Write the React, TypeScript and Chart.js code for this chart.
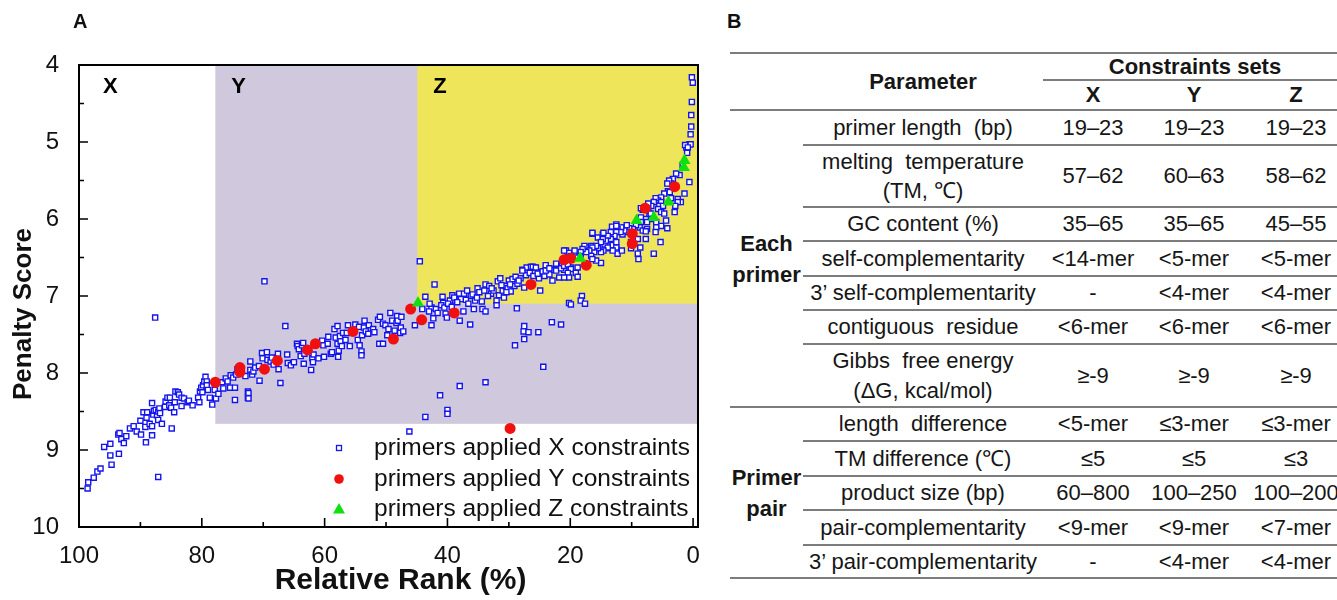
import React, { useEffect, useRef } from 'react';
import { Chart, registerables } from 'chart.js';

Chart.register(...registerables);

const FONT = '"Liberation Sans", Arial, Helvetica, sans-serif';

// ---------- Panel A data ----------
const rankTicks = [100, 80, 60, 40, 20, 0];
const rankMinorTicks = [90, 70, 50, 30, 10];
const scoreTicks = [4, 5, 6, 7, 8, 9, 10];
const scoreMinorTicks = [4.5, 5.5, 6.5, 7.5, 8.5, 9.5];

const regionLabels = ['X', 'Y', 'Z'];
const regionStartRank = [100, 77.8, 44.9];
const regionEndScore = [10, 8.66, 7.1];

const seriesLabels = [
  'primers applied X constraints',
  'primers applied Y constraints',
  'primers applied Z constraints',
];

const xSetRank = [
  98.6, 98.5, 97.6, 97.0, 96.5, 95.9, 94.9, 94.9, 94.7, 93.6, 93.5, 93.4, 93.1, 92.7, 92.3, 91.7, 91.1, 90.6, 90.0, 89.9,
  89.5, 89.2, 89.1, 89.0, 88.9, 88.5, 88.1, 88.1, 88.1, 87.9, 87.8, 87.6, 87.5, 87.3, 87.1, 87.1, 87.1, 86.9, 86.8, 86.5,
  86.0, 85.9, 85.6, 85.3, 85.2, 85.0, 84.9, 84.5, 84.4, 84.3, 83.9, 83.7, 83.3, 83.3, 82.9, 82.3, 82.1, 81.5, 80.6, 80.4,
  80.3, 80.1, 79.9, 79.8, 79.6, 79.4, 79.2, 79.2, 79.0, 78.7, 78.3, 77.9, 77.7, 77.3, 76.7, 76.5, 76.1, 75.8, 75.4, 75.3,
  74.9, 74.6, 74.6, 74.4, 74.2, 72.5, 72.5,
  72.9, 72.4, 72.4, 72.1, 72.1, 71.8, 71.6, 71.3, 70.7, 70.6, 70.2, 70.1, 69.8, 69.4, 69.3, 68.8, 68.6, 68.3, 67.6, 67.5,
  67.2, 66.4, 66.1, 66.0, 65.5, 65.0, 64.5, 64.4, 64.2, 63.9, 63.7, 63.5, 63.4, 63.3, 62.2, 62.0, 61.9, 61.8, 61.0, 60.4,
  60.2, 60.1, 59.5, 59.4, 59.0, 58.8, 58.4, 58.2, 57.9, 57.9, 57.8, 57.7, 57.5, 57.4, 57.2, 57.0, 56.6, 56.4, 56.2, 55.9,
  55.0, 54.6, 54.4, 54.3, 54.0, 54.0, 53.9, 53.6, 53.5, 53.3, 52.9, 52.8, 52.1, 51.9, 51.3, 51.1, 51.0, 50.5, 50.5, 50.1,
  49.8, 49.6, 49.3, 49.0, 48.6, 48.3, 48.2, 48.1, 47.7, 47.6, 47.5, 47.2, 46.2, 45.3,
  44.5, 44.1, 43.6, 43.6, 42.6, 42.6, 42.3, 42.1, 41.9, 41.6, 41.2, 40.8, 40.7, 40.3, 40.1, 40.0, 40.0, 39.6, 39.2, 38.7,
  38.1, 38.0, 38.0, 37.8, 37.4, 37.3, 36.8, 36.3, 36.2, 35.7, 35.5, 35.1, 34.4, 34.3, 33.8, 33.8, 33.8, 33.2, 32.9, 32.5,
  32.0, 32.0, 31.8, 31.6, 31.4, 31.0, 30.8, 30.6, 30.2, 30.0, 29.7, 29.4, 29.1, 29.0, 28.7, 28.6, 28.1, 27.8, 27.5, 27.5,
  27.6, 27.5, 27.2, 27.1, 26.8, 26.4, 25.8, 25.2, 25.1, 24.9, 24.6, 24.4, 24.2, 23.7, 23.0, 22.9, 22.1, 21.8, 21.5, 21.3,
  20.9, 20.2,
  43.0, 42.9, 41.0, 40.5, 39.9, 39.3, 38.9, 38.4, 37.0, 36.6, 35.9, 35.2, 34.8, 34.0, 33.4, 32.8, 31.2, 30.4, 29.8, 28.9,
  28.4, 26.6, 26.0, 24.0, 23.4, 22.6, 22.3, 21.0,
  27.8, 26.1, 25.6, 25.3, 24.5, 24.0, 23.4, 22.3, 21.5, 21.0, 20.7, 20.2, 18.8, 19.9, 20.4, 17.7, 17.2, 16.6, 18.3, 16.4,
  15.5, 14.7, 14.4, 13.9, 13.6, 13.1, 12.5, 12.3, 15.0, 13.2, 12.5, 11.9, 11.5, 11.2, 9.0, 8.9, 8.6, 6.4, 5.3, 4.2,
  2.0, 1.4, 0.6, 1.1, 0.6, 0.4, 0.2, 0.05, 0.2, 0.3, 0.3, 0.4,
  1.3, 0.86, 0.97, 1.7, 2.2, 2.76, 3.3, 3.6, 3.9, 4.2, 4.1, 4.7, 3.8, 3.6, 2.5, 5.2, 5.7, 5.2, 5.5, 4.9,
  6.1, 6.4, 6.8, 5.7, 5.2, 4.7, 3.0, 7.3, 7.9, 8.2, 7.1, 6.8, 7.7, 8.5, 6.0, 5.2, 4.4, 8.5, 8.7, 8.2,
  7.5, 6.0, 6.1, 9.3, 9.8, 10.4, 10.8, 10.6, 11.2, 11.7, 12.3, 12.5, 11.8, 12.5, 12.8, 13.4, 13.4, 13.9, 14.2, 14.7,
  15.0, 14.6, 16.4, 12.5, 12.5, 13.1, 11.6, 13.9, 14.6, 15.0, 15.5, 15.8, 16.1, 16.4, 16.9, 16.6, 17.4, 17.7, 18.0, 18.3,
  18.5, 19.1, 15.8, 16.4, 19.3, 19.9, 20.4, 21.0, 19.9, 19.1, 18.8, 20.4, 20.2, 21.0, 10.1, 9.0, 10.1, 7.7, 7.7, 18.1,
  18.3, 17.6, 19.9, 7.5, 7.3, 6.9, 8.5, 2.5, 2.9,
];
const xSetScore = [
  9.50, 9.42, 9.36, 9.28, 9.24, 8.96, 8.92, 9.07, 9.19, 8.80, 9.05, 8.78, 8.86, 8.91, 8.82, 8.72, 8.69, 8.76, 8.62, 8.80,
  8.51, 8.70, 8.90, 8.58, 8.51, 8.66, 8.69, 8.81, 8.39, 8.54, 8.49, 7.28, 8.48, 8.55, 8.61, 8.50, 9.35, 8.46, 8.52, 8.66,
  8.44, 8.37, 8.32, 8.42, 8.32, 8.45, 8.72, 8.51, 8.38, 8.24, 8.25, 8.28, 8.43, 8.32, 8.33, 8.38, 8.36, 8.42, 8.32, 8.38,
  8.24, 8.19, 8.25, 8.16, 8.11, 8.05, 8.11, 8.16, 8.22, 8.32, 8.41, 8.22, 8.33, 8.27, 8.12, 8.20, 8.07, 8.11, 8.19, 8.03,
  8.06, 8.35, 8.19, 8.02, 7.95, 8.24, 8.32,
  8.04, 8.26, 8.33, 7.85, 7.96, 8.02, 7.98, 7.93, 7.91, 8.10, 7.74, 7.81, 6.81, 7.73, 7.83, 7.85, 7.80, 7.89, 7.75, 7.95,
  8.13, 7.39, 7.76, 7.87, 7.90, 7.86, 7.62, 7.65, 7.69, 7.78, 7.64, 7.61, 7.88, 7.75, 7.96, 7.81, 7.86, 7.76, 7.81, 7.58,
  7.64, 7.79, 7.62, 7.53, 7.75, 7.73, 7.43, 7.54, 7.39, 7.62, 7.79, 7.71, 7.52, 7.59, 7.65, 7.48, 7.57, 7.48, 7.38, 7.65,
  7.37, 7.57, 7.40, 7.64, 7.72, 7.77, 7.51, 7.41, 7.32, 7.46, 7.49, 7.38, 7.43, 7.47, 7.31, 7.62, 7.27, 7.62, 7.36, 7.38,
  7.51, 7.43, 7.22, 7.32, 7.45, 7.35, 7.26, 7.32, 7.48, 7.41, 7.27, 7.46, 8.76, 7.38,
  6.55, 7.17, 7.01, 8.57, 7.15, 7.38, 7.29, 6.85, 7.17, 7.22, 8.29, 7.01, 7.09, 7.23, 7.28, 8.48, 8.53, 7.06, 6.99, 7.06,
  6.97, 7.32, 8.17, 7.04, 7.20, 6.97, 6.93, 7.37, 7.00, 7.17, 7.06, 6.90, 7.07, 7.17, 7.20, 6.85, 8.12, 6.87, 6.97, 6.93,
  7.06, 7.12, 6.81, 6.99, 6.77, 6.93, 7.02, 6.87, 6.90, 6.80, 6.94, 6.78, 6.87, 7.64, 7.16, 6.84, 6.77, 6.66, 6.89, 7.39,
  7.46, 7.56, 6.73, 6.63, 7.47, 6.62, 6.63, 7.47, 6.77, 6.93, 6.69, 7.92, 6.74, 6.64, 7.34, 6.80, 6.63, 6.76, 7.37, 6.59,
  6.53, 7.09,
  7.20, 7.10, 7.12, 7.15, 7.10, 7.14, 7.02, 7.08, 7.05, 7.10, 6.98, 7.02, 6.95, 6.93, 7.00, 6.90, 6.86, 6.95, 6.85, 6.75,
  6.80, 6.70, 6.74, 6.60, 6.72, 6.66, 6.58, 6.66,
  6.67, 6.62, 6.63, 6.71, 6.68, 6.67, 6.64, 6.67, 6.64, 6.61, 6.41, 6.44, 6.63, 6.63, 6.59, 6.39, 6.37, 6.35, 6.46, 6.19,
  6.24, 6.20, 6.33, 6.28, 6.38, 6.34, 6.39, 6.45, 6.57, 6.10, 6.07, 6.15, 6.20, 6.11, 6.45, 6.52, 6.37, 6.45, 6.30, 6.12,
  5.78, 5.67, 5.52, 5.07, 5.03, 5.03, 4.16, 4.23, 4.48, 4.65, 4.80, 4.90,
  5.04, 5.07, 5.14, 5.30, 5.43, 5.41, 5.48, 5.54, 5.50, 5.54, 5.64, 5.67, 5.65, 5.73, 5.74, 5.72, 5.76, 5.78, 5.83, 5.83,
  5.73, 5.78, 5.83, 5.87, 5.91, 5.93, 5.91, 5.80, 5.85, 5.88, 5.96, 6.00, 6.00, 5.98, 6.04, 6.09, 6.02, 6.04, 6.11, 6.15,
  6.13, 6.11, 6.17, 6.08, 6.13, 6.12, 6.08, 6.17, 6.15, 6.11, 6.13, 6.09, 6.17, 6.17, 6.22, 6.17, 6.26, 6.22, 6.28, 6.26,
  6.30, 6.18, 6.18, 6.30, 6.37, 6.41, 6.41, 6.37, 6.41, 6.43, 6.38, 6.35, 6.43, 6.37, 6.41, 6.48, 6.43, 6.35, 6.39, 6.43,
  6.48, 6.50, 6.54, 6.52, 6.41, 6.48, 6.50, 6.41, 6.65, 6.70, 6.75, 6.70, 6.76, 6.76, 6.30, 6.26, 6.38, 6.26, 6.16, 7.00,
  7.06, 7.10, 7.11, 6.04, 5.88, 5.93, 5.86, 5.78, 5.83,
];

const ySetRank = [77.8, 73.8, 73.8, 69.8, 67.7, 62.8, 61.5, 55.4, 48.8, 46.0, 44.2, 38.9, 29.8, 26.4, 21.0, 19.9, 17.4, 9.9, 9.9, 7.8, 3.0];
const ySetScore = [8.12, 7.93, 7.99, 7.95, 7.84, 7.70, 7.62, 7.46, 7.56, 7.17, 7.31, 7.22, 8.72, 6.85, 6.53, 6.51, 6.60, 6.19, 6.32, 5.86, 5.58];

const zSetRank = [44.8, 18.4, 9.2, 6.4, 4.0, 1.4, 1.5];
const zSetScore = [7.09, 6.51, 6.02, 5.98, 5.78, 5.24, 5.33];

const BLUE = '#1414F0';
const RED = '#F01010';
const GREEN = '#10E010';
const LAVENDER = '#D0C8DC';
const YELLOW = '#EEE55B';

const toPoints = (xs: number[], ys: number[]) => xs.map((v, i) => ({ x: v, y: ys[i] }));

const drawMarker = (ctx: CanvasRenderingContext2D, kind: number, cx: number, cy: number) => {
  ctx.save();
  if (kind === 0) {
    ctx.strokeStyle = BLUE;
    ctx.lineWidth = 1.3;
    ctx.fillStyle = '#fff';
    ctx.fillRect(cx - 2.5, cy - 2.5, 5, 5);
    ctx.strokeRect(cx - 2.5, cy - 2.5, 5, 5);
  } else if (kind === 1) {
    ctx.fillStyle = RED;
    ctx.beginPath();
    ctx.arc(cx, cy, 4.8, 0, Math.PI * 2);
    ctx.fill();
  } else {
    ctx.fillStyle = GREEN;
    ctx.beginPath();
    ctx.moveTo(cx, cy - 6);
    ctx.lineTo(cx + 6, cy + 4.5);
    ctx.lineTo(cx - 6, cy + 4.5);
    ctx.closePath();
    ctx.fill();
  }
  ctx.restore();
};

const decorPlugin = {
  id: 'decor',
  beforeDatasetsDraw(chart: any) {
    const { ctx, chartArea: a, scales } = chart;
    const x = scales.x;
    const y = scales.y;
    ctx.save();
    const colors = [null, LAVENDER, YELLOW];
    const starts: number[] = [];
    for (let i = 0; i < regionLabels.length; i++) {
      const left = Math.max(a.left, x.getPixelForValue(regionStartRank[i]));
      starts.push(left);
      const c = colors[i];
      if (c) {
        const bottom = y.getPixelForValue(regionEndScore[i]);
        ctx.fillStyle = c;
        ctx.fillRect(left, a.top, a.right - left, bottom - a.top);
      }
    }
    ctx.fillStyle = '#000';
    ctx.font = `bold 22px ${FONT}`;
    ctx.textBaseline = 'middle';
    ctx.textAlign = 'left';
    const offs = [24, 16, 16];
    regionLabels.forEach((lab, i) => {
      ctx.fillText(lab, starts[i] + offs[i], a.top + 22);
    });
    ctx.restore();
  },
  afterDatasetsDraw(chart: any) {
    const { ctx, chartArea: a, scales } = chart;
    const x = scales.x;
    const y = scales.y;
    ctx.save();
    // frame
    ctx.strokeStyle = '#000';
    ctx.lineWidth = 2;
    ctx.strokeRect(a.left, a.top, a.right - a.left, a.bottom - a.top);
    // inward ticks
    ctx.lineWidth = 1.6;
    ctx.beginPath();
    rankTicks.forEach((v) => {
      const px = x.getPixelForValue(v);
      ctx.moveTo(px, a.bottom);
      ctx.lineTo(px, a.bottom - 9);
    });
    rankMinorTicks.forEach((v) => {
      const px = x.getPixelForValue(v);
      ctx.moveTo(px, a.bottom);
      ctx.lineTo(px, a.bottom - 5);
    });
    scoreTicks.forEach((v) => {
      const py = y.getPixelForValue(v);
      ctx.moveTo(a.left, py);
      ctx.lineTo(a.left + 9, py);
    });
    scoreMinorTicks.forEach((v) => {
      const py = y.getPixelForValue(v);
      ctx.moveTo(a.left, py);
      ctx.lineTo(a.left + 5, py);
    });
    ctx.stroke();

    // legend
    ctx.font = `24.5px ${FONT}`;
    ctx.fillStyle = '#111';
    ctx.textBaseline = 'middle';
    ctx.textAlign = 'left';
    const rowsY = [a.bottom - 79, a.bottom - 48, a.bottom - 18];
    chart.data.datasets.forEach((ds: any, i: number) => {
      drawMarker(ctx, i, a.left + 260, rowsY[i]);
      ctx.fillText(ds.label, a.left + 295, rowsY[i]);
    });

    // axis titles
    ctx.fillStyle = '#111';
    ctx.font = `bold 30px ${FONT}`;
    ctx.textAlign = 'center';
    ctx.fillText('Relative Rank (%)', (a.left + a.right) / 2 + 12, 581);
    ctx.save();
    ctx.translate(24, 314);
    ctx.rotate(-Math.PI / 2);
    ctx.font = `bold 26px ${FONT}`;
    ctx.fillText('Penalty Score', 0, 0);
    ctx.restore();
    ctx.restore();
  },
};

function ScatterPanel() {
  const ref = useRef<HTMLCanvasElement | null>(null);
  useEffect(() => {
    if (!ref.current) return;
    const chart = new Chart(ref.current, {
      type: 'scatter',
      data: {
        datasets: [
          {
            label: seriesLabels[0],
            data: toPoints(xSetRank, xSetScore),
            pointStyle: 'rect',
            pointRadius: 3.6,
            pointBorderWidth: 1.4,
            borderColor: BLUE,
            backgroundColor: '#ffffff',
            order: 3,
          },
          {
            label: seriesLabels[1],
            data: toPoints(ySetRank, ySetScore),
            pointStyle: 'circle',
            pointRadius: 5.5,
            pointBorderWidth: 0,
            borderColor: RED,
            backgroundColor: RED,
            order: 2,
          },
          {
            label: seriesLabels[2],
            data: toPoints(zSetRank, zSetScore),
            pointStyle: 'triangle',
            pointRadius: 7,
            pointBorderWidth: 0,
            borderColor: GREEN,
            backgroundColor: GREEN,
            order: 1,
          },
        ],
      },
      options: {
        animation: false,
        responsive: false,
        devicePixelRatio: 1,
        layout: { padding: { top: 65, right: 14, left: 0, bottom: 0 } },
        plugins: { legend: { display: false }, tooltip: { enabled: false } },
        scales: {
          x: {
            type: 'linear',
            min: -0.8,
            max: 100,
            reverse: true,
            grid: { display: false },
            border: { display: false },
            ticks: { font: { size: 24, family: FONT }, color: '#111', padding: 7, maxRotation: 0 },
            afterBuildTicks: (s: any) => {
              s.ticks = rankTicks.map((v) => ({ value: v }));
            },
            afterFit: (s: any) => {
              s.height = 73;
            },
          },
          y: {
            type: 'linear',
            min: 4,
            max: 10,
            reverse: true,
            grid: { display: false },
            border: { display: false },
            ticks: { font: { size: 24, family: FONT }, color: '#111', padding: 12 },
            afterBuildTicks: (s: any) => {
              s.ticks = scoreTicks.map((v) => ({ value: v }));
            },
            afterFit: (s: any) => {
              s.width = 79;
            },
          },
        },
      } as any,
      plugins: [decorPlugin],
    });
    return () => chart.destroy();
  }, []);
  return <canvas ref={ref} width={712} height={600} style={{ position: 'absolute', left: 0, top: 0 }} />;
}

// ---------- Panel B data ----------
const groupNames = [['Each', 'primer'], ['Primer', 'pair']];
const setHeaders = ['X', 'Y', 'Z'];
const eachPrimerParams = [
  ['primer length  (bp)'],
  ['melting  temperature', '(TM, ℃)'],
  ['GC content (%)'],
  ['self-complementarity'],
  ['3’ self-complementarity'],
  ['contiguous  residue'],
  ['Gibbs  free energy', '(ΔG, kcal/mol)'],
];
const eachPrimerX = ['19–23', '57–62', '35–65', '<14-mer', '-', '<6-mer', '≥-9'];
const eachPrimerY = ['19–23', '60–63', '35–65', '<5-mer', '<4-mer', '<6-mer', '≥-9'];
const eachPrimerZ = ['19–23', '58–62', '45–55', '<5-mer', '<4-mer', '<6-mer', '≥-9'];
const primerPairParams = [
  ['length  difference'],
  ['TM difference (℃)'],
  ['product size (bp)'],
  ['pair-complementarity'],
  ['3’ pair-complementarity'],
];
const primerPairX = ['<5-mer', '≤5', '60–800', '<9-mer', '-'];
const primerPairY = ['≤3-mer', '≤5', '100–250', '<9-mer', '<4-mer'];
const primerPairZ = ['≤3-mer', '≤3', '100–200', '<7-mer', '<4-mer'];

// layout (pixels)
const COLS = [730, 803, 1043, 1143, 1245, 1347];
const TOP_RULE = 53;
const SUB_RULE = 80;
const HEAD_RULE = 110;
const EACH_H = [35, 62, 34, 35, 34, 34, 63];
const PAIR_H = [34, 35, 34, 35, 33];
const RULE_COLOR = '#7c7c7c';
const TXT = '#161616';

function Rule({ y, x1, x2 }: { y: number; x1: number; x2: number }) {
  return <div style={{ position: 'absolute', left: x1, top: y - 1, width: x2 - x1, height: 2, background: RULE_COLOR }} />;
}

function Cell({ x1, x2, y1, y2, lines, bold, lh = 30 }: { x1: number; x2: number; y1: number; y2: number; lines: string[]; bold?: boolean; lh?: number }) {
  return (
    <div
      style={{
        position: 'absolute',
        left: x1,
        top: y1,
        width: x2 - x1,
        height: y2 - y1,
        display: 'flex',
        flexDirection: 'column',
        justifyContent: 'center',
        alignItems: 'center',
        fontFamily: FONT,
        fontSize: 22,
        fontWeight: bold ? 700 : 400,
        lineHeight: `${lh}px`,
        color: TXT,
        whiteSpace: 'pre',
      }}
    >
      {lines.map((l, i) => (
        <div key={i}>{l}</div>
      ))}
    </div>
  );
}

function TablePanel() {
  const elems: React.ReactNode[] = [];
  elems.push(<Rule key="r-top" y={TOP_RULE} x1={COLS[0]} x2={COLS[5]} />);
  elems.push(<Rule key="r-sub" y={SUB_RULE} x1={COLS[2]} x2={COLS[5]} />);
  elems.push(<Rule key="r-head" y={HEAD_RULE} x1={COLS[0]} x2={COLS[5]} />);
  elems.push(<Cell key="h-param" x1={COLS[1]} x2={COLS[2]} y1={TOP_RULE} y2={HEAD_RULE} lines={['Parameter']} bold />);
  elems.push(<Cell key="h-sets" x1={COLS[2]} x2={COLS[5]} y1={TOP_RULE} y2={SUB_RULE} lines={['Constraints sets']} bold />);
  setHeaders.forEach((h, i) => {
    elems.push(<Cell key={'h-' + h} x1={COLS[2 + i]} x2={COLS[3 + i]} y1={SUB_RULE} y2={HEAD_RULE} lines={[h]} bold />);
  });

  const groups = [
    { name: groupNames[0], params: eachPrimerParams, vals: [eachPrimerX, eachPrimerY, eachPrimerZ], hs: EACH_H },
    { name: groupNames[1], params: primerPairParams, vals: [primerPairX, primerPairY, primerPairZ], hs: PAIR_H },
  ];
  let y = HEAD_RULE;
  groups.forEach((g, gi) => {
    const gTop = y;
    g.params.forEach((p, ri) => {
      const y2 = y + g.hs[ri];
      elems.push(<Cell key={`p-${gi}-${ri}`} x1={COLS[1]} x2={COLS[2]} y1={y} y2={y2} lines={p} lh={29.5} />);
      g.vals.forEach((col, ci) => {
        elems.push(<Cell key={`v-${gi}-${ri}-${ci}`} x1={COLS[2 + ci]} x2={COLS[3 + ci]} y1={y} y2={y2} lines={[col[ri]]} />);
      });
      const last = ri === g.params.length - 1;
      elems.push(<Rule key={`rr-${gi}-${ri}`} y={y2} x1={last ? COLS[0] : COLS[1]} x2={COLS[5]} />);
      y = y2;
    });
    elems.push(<Cell key={`g-${gi}`} x1={COLS[0]} x2={COLS[1]} y1={gTop} y2={y} lines={g.name} bold lh={31} />);
  });
  return <>{elems}</>;
}

export default function App() {
  useEffect(() => {
    document.body.style.margin = '0';
  }, []);
  return (
    <div style={{ position: 'absolute', left: 0, top: 0, width: 1337, height: 600, overflow: 'hidden', background: '#fff' }}>
      <ScatterPanel />
      <div style={{ position: 'absolute', left: 73, top: 10, fontFamily: FONT, fontWeight: 700, fontSize: 20, color: '#111' }}>A</div>
      <div style={{ position: 'absolute', left: 727, top: 10, fontFamily: FONT, fontWeight: 700, fontSize: 20, color: '#111' }}>B</div>
      <TablePanel />
    </div>
  );
}
